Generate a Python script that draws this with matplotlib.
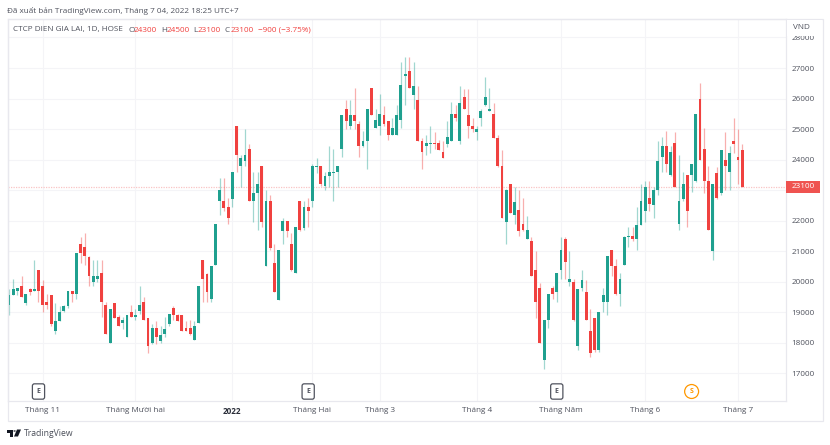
import numpy as np
import matplotlib
matplotlib.use('Agg')
import matplotlib.pyplot as plt
from matplotlib.patches import Polygon, Circle, Rectangle

W=830.
H=445.
plt.rcParams['font.family']=['Open Sans','DejaVu Sans']

opens=[19250,19550,19700,19850,19300,19750,19700,20400,19850,19350,
19550,18400,18700,19050,19200,19700,19600,21250,21150,20800,
20000,20100,20300,19250,18000,19300,18850,18650,18200,19000,
18850,19050,19350,18800,18000,18500,18050,18300,18600,19150,
18900,18900,18500,18500,18100,18650,20700,20250,19450,20550,
22650,22650,22450,22700,25100,23800,23950,24350,22650,22900,
23800,20500,22650,20600,19400,21650,22000,21250,20300,22650,
21750,22450,22650,23750,23800,23150,23450,23550,23600,24350,
25650,25100,25450,25150,24450,24600,26350,25050,25100,25450,
25250,24800,24800,25300,26750,26900,26100,25950,24600,24450,
24500,24550,24550,24250,24500,24600,25500,24600,26050,25450,
25100,24900,25350,25800,25600,25500,24700,23800,21950,23200,
22200,22350,21900,21400,21350,20400,19800,17450,18750,19800,
19650,20400,21400,20000,20000,17900,19800,19650,18400,18800,
17750,19350,19350,21050,20500,19600,20550,21450,21500,21400,
21850,22300,22750,22500,23000,24100,24450,23500,24550,21900,
22700,23500,23500,23300,26000,24350,23300,21000,23550,22900,
24000,23600,24600,24100,24300]
highs=[19750,20100,19800,20200,19600,19800,20700,20400,20050,19600,
19550,19300,19200,19250,19700,19700,20950,21450,21600,20850,
20700,20700,20700,19350,19100,19300,18900,18850,18900,19250,
19100,19850,19500,18800,18600,18700,18550,18850,18950,19200,
18950,18900,18700,18750,18700,19850,20700,20300,20500,21900,
23400,23400,22750,23600,25100,24150,25000,24500,23600,23600,
23800,23000,22850,21250,21050,22100,22000,21600,21800,22650,
22650,22750,23850,24050,23800,23600,24450,24350,23800,25450,
25950,25950,26350,25250,24950,25650,26350,25650,26150,25750,
25250,25350,25800,27200,27350,27350,27200,26400,24700,24800,
25100,24900,24650,24600,25250,25900,25800,26400,26300,26300,
25350,25100,25650,26700,26350,25850,24800,24300,23050,23200,
23100,23000,22750,22150,21450,21000,19950,18750,19600,19850,
20300,21450,21450,21000,20100,19750,20400,20050,19100,18800,
19000,19800,20850,21050,20750,20300,21500,21800,21800,22450,
23200,23300,23300,23100,24600,24750,24950,24450,24900,24150,
23600,23500,23850,25500,26500,25050,23800,23200,23750,24300,
24900,24450,25350,25000,24500]
lows=[18900,19550,19550,19500,19250,19550,19700,19350,19000,19100,
18550,18300,18700,19000,19150,19350,19450,20600,20550,19850,
19850,20000,18850,18300,18000,18800,18550,18450,18200,18850,
18750,18950,18750,17650,17950,17950,18000,18200,18550,18750,
18700,18400,18400,18250,18100,18650,19350,19350,19350,20550,
22200,22300,21900,22450,23600,23100,23800,22650,21950,21700,
21800,20500,21050,19650,19400,21250,21450,20350,20300,21650,
21700,21800,22450,23550,23150,23000,23100,22650,23100,24100,
25000,25000,25000,24100,24400,23700,25450,25050,24800,25100,
24650,24800,24800,25050,25800,26350,25650,24600,23700,24150,
24200,24350,24300,24050,24400,24600,25250,24500,25650,24700,
24900,24650,25100,25750,25600,24700,23750,22100,21250,22250,
21900,21500,21650,21400,20200,18800,18000,17150,18500,19450,
19350,20100,20100,19850,18700,17750,19700,18750,17550,17700,
17700,19000,18900,20200,19550,19200,20550,21150,21350,21050,
21850,21950,22300,22100,22850,23600,23600,23450,23100,21700,
22650,21800,22950,23250,24000,22900,21700,20700,22700,22850,
23000,23000,24200,23200,23100]
closes=[19550,19750,19800,19500,19600,19650,19750,19700,19250,19250,
18600,18700,19000,19200,19700,19600,20950,20950,20850,20200,
20200,20200,19350,18300,19100,18800,18550,18750,18900,18850,
18900,19250,18750,17900,18500,18200,18250,18450,18950,18900,
18700,18400,18400,18300,18550,19850,20100,19650,20500,21900,
23000,22400,22100,23600,24150,24050,24150,22650,22900,23200,
21950,22650,21100,19650,21050,22000,21650,20400,21800,21700,
22450,22300,23800,23800,23200,23450,23600,23600,23800,25450,
25250,25450,25250,24450,24600,25650,25450,25300,25500,25150,
24800,25050,25450,26450,26800,26350,26400,24600,24250,24550,
24550,24500,24300,24050,24750,25500,25350,25850,25650,25100,
25000,25000,25600,26050,25650,24700,23800,22100,23000,22250,
22600,21650,21700,21700,20200,19350,18000,18750,19600,19600,
20300,21050,20650,20100,18750,19750,20050,18750,17650,17750,
19000,19550,20850,20500,19600,20100,21450,21500,21400,21850,
22650,23100,22550,23000,23950,24450,23850,24250,23100,22650,
23200,22300,23850,25500,24000,23300,21700,23200,22750,24300,
23800,24200,24500,24000,23100]

price_ticks=[17000,18000,19000,20000,21000,22000,23000,24000,25000,26000,27000,28000]
month_pos=[8,30,53,72,88,111,131,151,173]
month_labels=['Tháng 11','Tháng Mười hai','2022','Tháng Hai','Tháng 3','Tháng 4','Tháng Năm','Tháng 6','Tháng 7']
earnings_pos=[7,71,130]
dividend_pos=[162]
last_price=23100

teal='#1fa08f'
red='#f0413f'
grey='#50535e'
light='#f4f4f7'
frame='#e8e8ee'

def px_box(x0,y0,x1,y1):
	return [x0/W,1-y1/H,(x1-x0)/W,(y1-y0)/H]

fig=plt.figure(figsize=(W/100,H/100),dpi=100,facecolor='white')
ax=fig.add_axes(px_box(7.5,19,786,401))

x=np.arange(len(opens))
o=np.array(opens)
c=np.array(closes)
colors=[teal if c[i]>=o[i] else red for i in x]

ax.vlines(x,lows,highs,colors=colors,linewidth=0.9,alpha=0.42,zorder=2)
ax.bar(x,np.abs(c-o),bottom=np.minimum(o,c),width=0.68,color=colors,linewidth=0,zorder=3)

ax.axhline(last_price,color='#f9c4c4',linewidth=0.9,linestyle=(0,(1,1)),zorder=1)

ax.set_xlim(-0.356,184.4)
ax.set_ylim(16093,28605)
ax.yaxis.tick_right()
ax.set_yticks(price_ticks)
ax.set_xticks(month_pos)
ax.set_xticklabels(month_labels)
ax.grid(True,color=light,linewidth=0.8)
ax.set_axisbelow(True)
ax.tick_params(axis='y',length=0,pad=4,labelsize=5.9,labelcolor=grey)
ax.tick_params(axis='x',length=0,pad=4.5,labelsize=5.9,labelcolor=grey)
for lab in ax.get_xticklabels():
	if lab.get_text()=='2022':
		lab.set_fontweight('bold')
		lab.set_color('#2a2e39')
for s in ax.spines.values():
	s.set_color(frame)
	s.set_linewidth(0.9)

# E and S markers above the time axis
trans=ax.get_xaxis_transform()
ymark=(401-391.5)/382.
for p in earnings_pos:
	ax.text(p,ymark,'E',transform=trans,ha='center',va='center',fontsize=5,fontweight='bold',color=grey,zorder=5,
		bbox=dict(boxstyle='round,pad=0.6,rounding_size=0.3',fc='white',ec=grey,lw=0.9))
for p in dividend_pos:
	ax.text(p,ymark,'S',transform=trans,ha='center',va='center',fontsize=5,fontweight='bold',color='#ff9800',zorder=5,
		bbox=dict(boxstyle='circle,pad=0.5',fc='white',ec='#ff9800',lw=0.9))

def put(xp,yp,s,**kw):
	kw.setdefault('fontsize',5.9)
	kw.setdefault('color',grey)
	kw.setdefault('va','center')
	return fig.text(xp/W,1-yp/H,s,**kw)

# outer frame around time axis and price axis
fig.add_artist(Rectangle((7.5/W,1-420.6/H),(822.7-7.5)/W,(420.6-19)/H,transform=fig.transFigure,fill=False,ec=frame,lw=0.9))

# box hiding the top half of the 28000 label
top=fig.add_axes(px_box(787,20,822,35.8),zorder=5)
top.set_axis_off()
top.add_patch(Rectangle((0,0),1,1,transform=top.transAxes,fc='white',ec='none'))
top.text(0.17,0.55,'VND',transform=top.transAxes,ha='left',va='center',fontsize=5.9,color=grey)

# last price tag
fig.add_artist(Rectangle((786/W,1-192.5/H),(819.7-786)/W,11.5/H,transform=fig.transFigure,fc='#ef5350',ec='none',zorder=6))
put(803,187,'23100',ha='center',color='white',zorder=7)

put(7,11,'Đã xuất bản TradingView.com, Tháng 7 04, 2022 18:25 UTC+7')
put(13,30,'CTCP DIEN GIA LAI, 1D, HOSE')
for xl,l,xv,v in [(128,'O',134,'24300'),(161,'H',166.8,'24500'),(193.5,'L',198,'23100'),(224.7,'C',230.5,'23100')]:
	put(xl,30,l)
	put(xv,30,v,color=red)
put(257.5,30,'−900 (−3.75%)',color=red)

# TradingView logo
def logo_poly(pts,col):
	fig.add_artist(Polygon([(a/W,1-b/H) for a,b in pts],closed=True,transform=fig.transFigure,fc=col,ec='none'))
logo_poly([(7,429.5),(13,429.5),(13,436.5),(10,436.5),(10,432.5),(7,432.5)],'#131722')
logo_poly([(17,429.5),(21,429.5),(18,436.5),(14,436.5)],'#131722')
fig.add_artist(Circle((14.6/W,1-431/H),1.2/W,transform=fig.transFigure,fc='#131722',ec='none'))
put(24,433,'TradingView',fontsize=6.2,color='#4a4e59')

plt.savefig('out.png',dpi=100)
